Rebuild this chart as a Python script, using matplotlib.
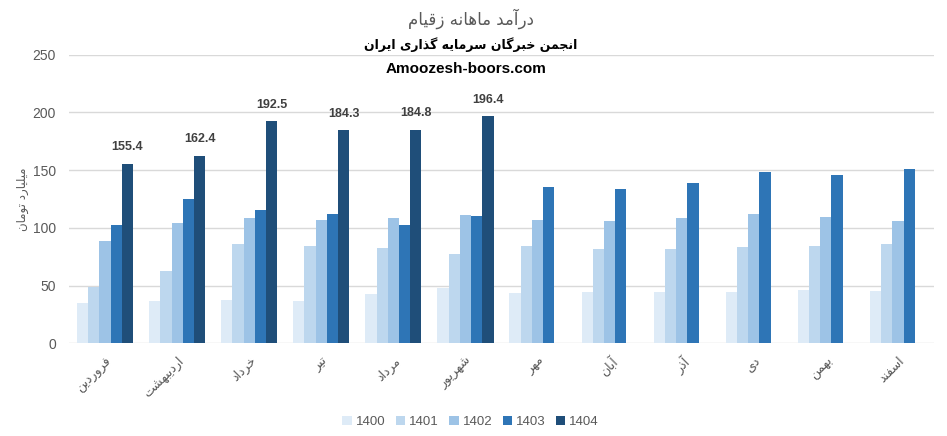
import numpy as np
import matplotlib
matplotlib.use("Agg")
import matplotlib.pyplot as plt
from matplotlib.patches import Patch

# data (billion toman)
months = ["فروردین", "اردیبهشت", "خرداد", "تیر", "مرداد", "شهریور",
          "مهر", "آبان", "آذر", "دی", "بهمن", "اسفند"]
years = ["1400", "1401", "1402", "1403", "1404"]

y1400 = [35.2, 36.7, 37.5, 36.7, 42.7, 47.9, 43.6, 44.4, 44.4, 44.4, 46.2, 45.3]
y1401 = [49.1, 62.6, 86.0, 84.3, 82.5, 77.3, 84.3, 81.7, 81.7, 83.4, 84.3, 86.0]
y1402 = [88.6, 104.2, 108.5, 106.8, 108.5, 111.1, 106.8, 105.9, 108.5, 112.0, 109.4, 105.9]
y1403 = [102.5, 125.0, 115.4, 112.0, 102.5, 110.2, 135.4, 133.6, 138.8, 148.3, 145.7, 150.9]
y1404 = [155.4, 162.4, 192.5, 184.3, 184.8, 196.4]

colors = ["#DEEBF7", "#BDD7EE", "#9DC3E6", "#2E75B6", "#1F4E79"]

title = "درآمد ماهانه زقیام"
subtitle = "انجمن خبرگان سرمایه گذاری ایران"
site = "Amoozesh-boors.com"
ylabel = "میلیارد تومان"

# matplotlib does no arabic shaping, so map letters to presentation forms
# (iso, fin, ini, med); two-tuple letters do not join to the next one
FORMS = {
    "ا": (0xFE8D, 0xFE8E), "آ": (0xFE81, 0xFE82),
    "ب": (0xFE8F, 0xFE90, 0xFE91, 0xFE92), "ت": (0xFE95, 0xFE96, 0xFE97, 0xFE98),
    "ج": (0xFE9D, 0xFE9E, 0xFE9F, 0xFEA0), "خ": (0xFEA5, 0xFEA6, 0xFEA7, 0xFEA8),
    "د": (0xFEA9, 0xFEAA), "ذ": (0xFEAB, 0xFEAC),
    "ر": (0xFEAD, 0xFEAE), "ز": (0xFEAF, 0xFEB0),
    "س": (0xFEB1, 0xFEB2, 0xFEB3, 0xFEB4), "ش": (0xFEB5, 0xFEB6, 0xFEB7, 0xFEB8),
    "ف": (0xFED1, 0xFED2, 0xFED3, 0xFED4), "ق": (0xFED5, 0xFED6, 0xFED7, 0xFED8),
    "ل": (0xFEDD, 0xFEDE, 0xFEDF, 0xFEE0), "م": (0xFEE1, 0xFEE2, 0xFEE3, 0xFEE4),
    "ن": (0xFEE5, 0xFEE6, 0xFEE7, 0xFEE8), "ه": (0xFEE9, 0xFEEA, 0xFEEB, 0xFEEC),
    "و": (0xFEED, 0xFEEE),
    "\u06cc": (0xFEEF, 0xFEF0, 0xFEF3, 0xFEF4),
    "\u064a": (0xFEEF, 0xFEF0, 0xFEF3, 0xFEF4),
    "گ": (0xFB92, 0xFB93, 0xFB94, 0xFB95),
}


def shape(text):
    out = []
    for i, ch in enumerate(text):
        f = FORMS.get(ch)
        if f is None:
            out.append(ch)
            continue
        prev = text[i - 1] if i > 0 else ""
        nxt = text[i + 1] if i + 1 < len(text) else ""
        jp = prev in FORMS and len(FORMS[prev]) == 4
        jn = len(f) == 4 and nxt in FORMS
        if jp and jn:
            c = f[3]
        elif jp:
            c = f[1]
        elif jn:
            c = f[2]
        else:
            c = f[0]
        out.append(chr(c))
    return "".join(reversed(out))


plt.rcParams["font.family"] = ["Liberation Sans", "DejaVu Sans"]
gray = "#595959"

fig = plt.figure(figsize=(9.47, 4.36), dpi=100)
ax = fig.add_axes([69 / 947, 1 - 343.3 / 436, (934 - 69) / 947, (343.3 - 54.6) / 436])

series = [y1400, y1401, y1402, y1403, y1404]
x = np.arange(len(months))
w = 0.156
for k, vals in enumerate(series):
    xs = x[:len(vals)] + (k - 2) * w
    ax.bar(xs, vals, width=w, color=colors[k], zorder=3)
    if years[k] == "1404":
        for xi, v in zip(xs, vals):
            ax.text(xi, v + 9, f"{v:.1f}", ha="center", va="bottom",
                    fontsize=9, fontweight="bold", color="#404040")

ax.set_xlim(-0.5, len(months) - 0.5)
ax.set_ylim(0, 250)
ax.set_yticks(range(0, 251, 50))
ax.grid(axis="y", color="#D9D9D9", linewidth=1, zorder=0)
for s in ax.spines.values():
    s.set_visible(False)
ax.tick_params(axis="both", length=0, colors=gray)
ax.tick_params(axis="y", pad=9.5, labelsize=10)
ax.set_xticks(x)
ax.set_xticklabels([shape(m) for m in months], rotation=45, ha="right",
                   rotation_mode="anchor", family=["DejaVu Sans"], fontsize=9)
ax.tick_params(axis="x", pad=8)

fig.text(0.497, 1 - 19 / 436, shape(title), ha="center", va="center",
         fontsize=12, color=gray, family=["DejaVu Sans"])
fig.text(0.497, 1 - 45 / 436, shape(subtitle), ha="center", va="center",
         fontsize=9, fontweight="bold", color="black", family=["DejaVu Sans"])
fig.text(0.492, 1 - 69 / 436, site, ha="center", va="center",
         fontsize=11, fontweight="bold", color="black")
fig.text(22.5 / 947, 1 - 199 / 436, shape(ylabel), ha="center", va="center",
         rotation=90, fontsize=8.5, color=gray, family=["DejaVu Sans"])

handles = [Patch(facecolor=c) for c in colors]
fig.legend(handles, years, loc="center", bbox_to_anchor=(0.497, 1 - 422 / 436),
           ncol=5, frameon=False, fontsize=9.5, labelcolor=gray,
           handlelength=0.7, handleheight=0.7, handletextpad=0.3, columnspacing=0.8)

fig.savefig("out.png", dpi=100)
